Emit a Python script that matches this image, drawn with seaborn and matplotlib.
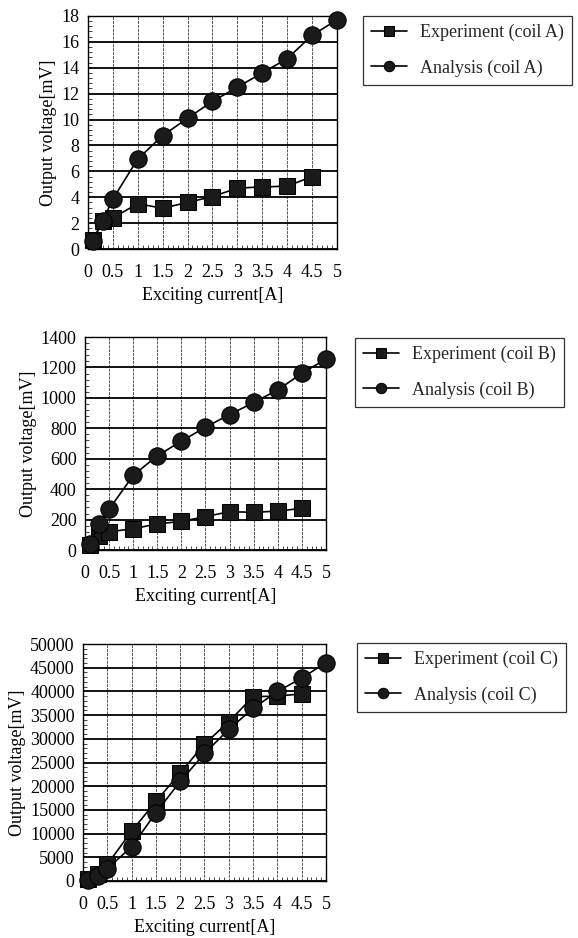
import matplotlib
matplotlib.use("Agg")
import matplotlib.pyplot as plt
import seaborn as sns
import numpy as np
import pandas as pd
from matplotlib.ticker import MultipleLocator

# ---- data ----
exp_current = [0.1, 0.3, 0.5, 1, 1.5, 2, 2.5, 3, 3.5, 4, 4.5]
ana_current = [0.1, 0.3, 0.5, 1, 1.5, 2, 2.5, 3, 3.5, 4, 4.5, 5]

exp_A = [0.7, 2.2, 2.4, 3.5, 3.15, 3.6, 4.05, 4.7, 4.8, 4.85, 5.6]
ana_A = [0.6, 2.2, 3.85, 6.95, 8.75, 10.1, 11.4, 12.5, 13.6, 14.7, 16.5, 17.7]

exp_B = [35, 90, 120, 140, 172, 188, 220, 252, 248, 256, 274]
ana_B = [40, 172, 268, 490, 620, 715, 808, 890, 970, 1052, 1162, 1255]

exp_C = [500, 1500, 3500, 10500, 16800, 22800, 28900, 33600, 38900, 39000, 39500]
ana_C = [300, 1000, 2600, 7200, 14400, 21000, 26900, 32000, 36400, 40000, 42800, 46100]

coils = ["A", "B", "C"]
y_limits = [(0, 18), (0, 1400), (0, 50000)]
y_steps = [2, 200, 5000]
x_ticks = [0, 0.5, 1, 1.5, 2, 2.5, 3, 3.5, 4, 4.5, 5]
x_label = "Exciting current[A]"
y_label = "Output voltage[mV]"

sns.set_theme(style="white")
plt.rcParams['font.family'] = ['Liberation Serif', 'DejaVu Serif']

fig = plt.figure(figsize=(5.78, 9.38), dpi=100)

axes_pos = [
    [0.152, 0.7345, 0.431, 0.2485],
    [0.147, 0.4136, 0.417, 0.2271],
    [0.1436, 0.0608, 0.4204, 0.2526],
]
legend_anchor = [(0.628, 0.983), (0.614, 0.6397), (0.618, 0.3145)]

exps = [exp_A, exp_B, exp_C]
anas = [ana_A, ana_B, ana_C]

for i in range(3):
    ax = fig.add_axes(axes_pos[i])
    df_e = pd.DataFrame({"current": exp_current, "voltage": exps[i]})
    df_a = pd.DataFrame({"current": ana_current, "voltage": anas[i]})
    sns.lineplot(data=df_e, x="current", y="voltage", ax=ax, color="black",
                 marker="s", markersize=12, markerfacecolor="#1a1a1a",
                 markeredgecolor="black", linewidth=1.2,
                 label=f"Experiment (coil {coils[i]})", zorder=3, clip_on=False)
    sns.lineplot(data=df_a, x="current", y="voltage", ax=ax, color="black",
                 marker="o", markersize=12.5, markerfacecolor="#1a1a1a",
                 markeredgecolor="black", linewidth=1.2,
                 label=f"Analysis (coil {coils[i]})", zorder=3, clip_on=False)
    ax.set_xlim(0, 5)
    ax.set_ylim(*y_limits[i])
    ax.set_xticks(x_ticks)
    ax.set_xticklabels([f"{t:g}" for t in x_ticks])
    ax.yaxis.set_major_locator(MultipleLocator(y_steps[i]))
    ax.xaxis.set_minor_locator(MultipleLocator(0.1))
    ax.yaxis.set_minor_locator(MultipleLocator(y_steps[i] / 5))
    ax.grid(True, axis="y", which="major", color="black", linewidth=1.3)
    ax.grid(True, axis="x", which="major", color="#555555", linewidth=0.7,
            linestyle=(0, (3, 1)))
    ax.tick_params(axis="both", which="major", direction="inout", length=6,
                   labelsize=13, width=0.8, colors="black", pad=3)
    ax.tick_params(axis="both", which="minor", direction="in", length=3,
                   width=0.6, bottom=True, left=True)
    ax.tick_params(axis="x", which="major", pad=8)
    for s in ax.spines.values():
        s.set_color("black")
        s.set_linewidth(1.0)
    ax.set_xlabel(x_label, fontsize=13, color="black", labelpad=4)
    ax.set_ylabel(y_label, fontsize=13, color="black", labelpad=3)
    ax.set_axisbelow(True)
    leg = ax.legend(loc="upper left", bbox_to_anchor=legend_anchor[i],
                    bbox_transform=fig.transFigure, fontsize=13,
                    frameon=True, fancybox=False, edgecolor="black",
                    handlelength=2.0, markerscale=0.6, borderpad=0.45,
                    labelspacing=1.0, handletextpad=0.7, borderaxespad=0)
    leg.get_frame().set_linewidth(0.9)

fig.savefig("out.png", dpi=100)
